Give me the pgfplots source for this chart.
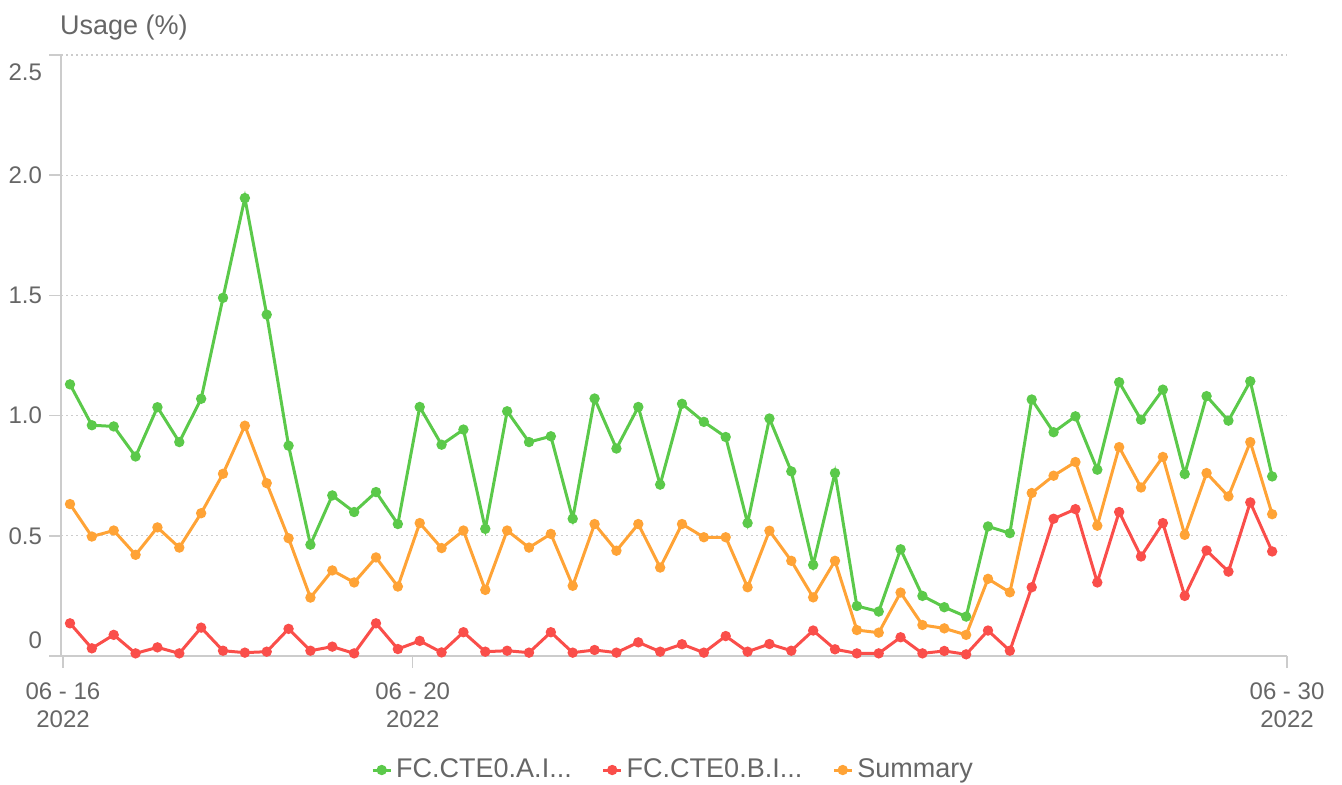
\documentclass[border=0pt]{standalone}
\usepackage{pgfplots}
\pgfplotsset{compat=1.18}
\usepackage{pgfplotstable}
\usepackage{fontspec}
\setmainfont{Liberation Sans}
\definecolor{cgreen}{RGB}{91,201,74}
\definecolor{cred}{RGB}{250,78,74}
\definecolor{corange}{RGB}{255,163,54}
\definecolor{txt}{RGB}{102,102,102}
\definecolor{axln}{RGB}{204,204,204}

\pgfplotstableread{
x a b s
0.08 1.13 0.136 0.632
0.33 0.96 0.032 0.497
0.58 0.955 0.088 0.522
0.83 0.83 0.011 0.421
1.08 1.035 0.036 0.535
1.33 0.89 0.011 0.451
1.58 1.07 0.118 0.594
1.83 1.49 0.022 0.758
2.08 1.905 0.014 0.958
2.33 1.42 0.018 0.719
2.58 0.875 0.113 0.490
2.83 0.463 0.022 0.243
3.08 0.668 0.039 0.356
3.33 0.599 0.011 0.306
3.58 0.682 0.136 0.410
3.83 0.549 0.029 0.289
4.08 1.036 0.063 0.553
4.33 0.879 0.015 0.449
4.58 0.942 0.099 0.522
4.83 0.529 0.018 0.275
5.08 1.018 0.022 0.522
5.33 0.890 0.014 0.451
5.58 0.914 0.099 0.508
5.83 0.571 0.014 0.292
6.08 1.071 0.025 0.549
6.33 0.863 0.014 0.438
6.58 1.036 0.057 0.549
6.83 0.713 0.018 0.368
7.08 1.049 0.049 0.549
7.33 0.974 0.014 0.494
7.58 0.911 0.083 0.494
7.83 0.553 0.018 0.286
8.08 0.988 0.050 0.521
8.33 0.768 0.022 0.396
8.58 0.379 0.106 0.244
8.83 0.761 0.028 0.396
9.08 0.208 0.011 0.108
9.33 0.185 0.011 0.097
9.58 0.444 0.078 0.264
9.83 0.250 0.011 0.129
10.08 0.203 0.021 0.115
10.33 0.164 0.007 0.088
10.58 0.539 0.106 0.321
10.83 0.511 0.022 0.265
11.08 1.067 0.286 0.678
11.33 0.931 0.571 0.750
11.58 0.997 0.611 0.807
11.83 0.775 0.306 0.542
12.08 1.139 0.599 0.869
12.33 0.983 0.414 0.701
12.58 1.108 0.553 0.828
12.83 0.757 0.250 0.504
13.08 1.081 0.439 0.761
13.33 0.979 0.351 0.664
13.58 1.143 0.639 0.890
13.83 0.747 0.435 0.590
}\data

\begin{document}
\begin{tikzpicture}
\path[use as bounding box] (-30.5pt,-64pt) rectangle (640.5pt,328pt);
\begin{axis}[
 scale only axis, width=613pt, height=300.5pt,
 xmin=-0.023, xmax=14, ymin=0, ymax=2.5,
 axis lines*=left,
 axis line style={axln, line width=0.75pt},
 tick align=outside, major tick length=6pt,
 tick style={axln, line width=0.75pt},
 xtick={0,4,14},
 xticklabels={{06 - 16\\2022},{06 - 20\\2022},{06 - 30\\2022}},
 xticklabel style={align=center, font=\fontsize{12}{14}\selectfont, text=txt, yshift=-4pt},
 ytick={0,0.5,1,1.5,2,2.5},
 yticklabels={\raisebox{8pt}[\height][\depth]{0},0.5,1.0,1.5,2.0,\raisebox{-8.5pt}[\height][\depth]{2.5}},
 yticklabel style={font=\fontsize{12}{14}\selectfont, text=txt},
 ymajorgrids, grid style={axln, dash pattern=on 1pt off 1.5pt, line width=0.6pt},
 ylabel={Usage (\%)},
 ylabel style={rotate=-90, at={(axis description cs:0,1)}, anchor=west, yshift=13.5pt, xshift=-4pt, font=\fontsize{13.5}{16}\selectfont, text=txt},
 legend style={at={(axis description cs:0.5,0)}, anchor=center, yshift=-57pt, draw=none, fill=none, legend columns=-1, font=\fontsize{13.5}{16}\selectfont, text=txt, /tikz/every even column/.append style={column sep=13pt}},
 legend cell align=left,
 legend image code/.code={\draw[mark repeat=2,mark phase=2] plot coordinates {(0pt,0pt) (4.5pt,0pt) (9pt,0pt)};},
 every axis plot/.append style={line width=1.5pt, mark=*, mark size=1.8pt, mark options={solid}},
]
\addplot[color=cgreen] table[x=x,y=a] {\data};
\addlegendentry{FC.CTE0.A.I...}
\addplot[color=cred] table[x=x,y=b] {\data};
\addlegendentry{FC.CTE0.B.I...}
\addplot[color=corange] table[x=x,y=s] {\data};
\addlegendentry{Summary}
\end{axis}
\end{tikzpicture}
\end{document}
